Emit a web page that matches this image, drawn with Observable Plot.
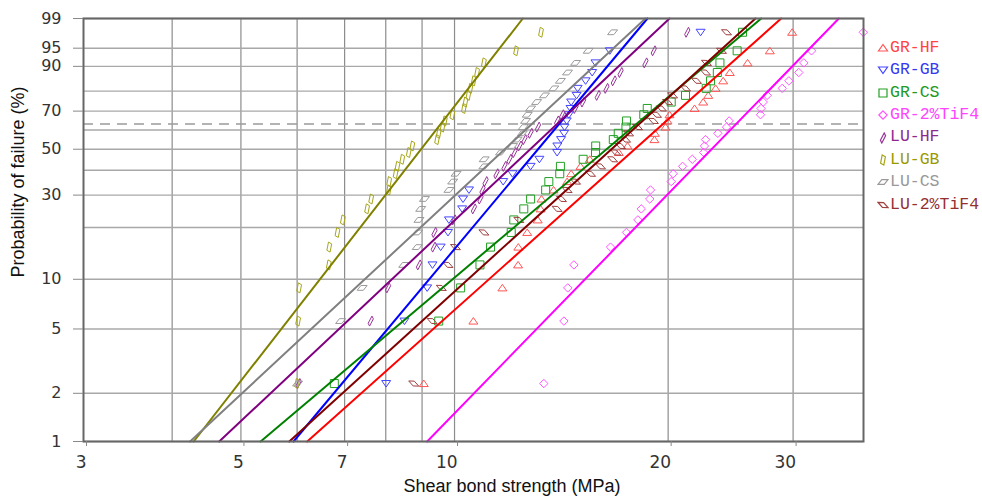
<!DOCTYPE html>
<html><head><meta charset="utf-8">
<script src="https://cdn.jsdelivr.net/npm/d3@7"></script>
<script src="https://cdn.jsdelivr.net/npm/@observablehq/plot@0.6"></script>
<style>
body{margin:0;background:#fff;}
#wrap{position:relative;width:982px;height:496px;overflow:hidden;font-family:"Liberation Sans",Arial,sans-serif;}
#ytitle{position:absolute;left:18px;top:182px;transform:translate(-50%,-50%) rotate(-90deg);white-space:nowrap;font-size:18px;color:#111;}
#xtitle{position:absolute;left:512px;top:486px;transform:translate(-50%,-50%);white-space:nowrap;font-size:18px;color:#111;}
#legend{position:absolute;left:877px;top:36.8px;font-family:"Liberation Mono",monospace;font-size:16.5px;}
#legend .row{height:22.4px;line-height:22.4px;display:flex;align-items:center;white-space:nowrap;}
#legend svg{width:12px;height:12px;margin-right:1px;}
</style></head><body><div id="wrap"><div id="ytitle">Probability of failure (%)</div><div id="xtitle">Shear bond strength (MPa)</div><div id="legend"></div></div>
<script>
// ---- data ----
const seriesNames = ["GR-HF","GR-GB","GR-CS","GR-2%TiF4","LU-HF","LU-GB","LU-CS","LU-2%TiF4"];
// plotting positions (median ranks, %) shared by every series of 30 specimens
const rankProb = [2.30,5.59,8.88,12.17,15.46,18.75,22.04,25.33,28.62,31.91,35.20,38.49,41.78,45.07,48.36,51.64,54.93,58.22,61.51,64.80,68.09,71.38,74.67,77.96,81.25,84.54,87.83,91.12,94.41,97.70];
const grHF = [9.05,10.63,11.68,12.29,12.30,12.66,13.10,13.22,13.26,13.79,14.41,14.60,15.05,15.51,17.04,17.53,19.13,19.16,19.83,19.96,20.09,21.79,22.41,22.78,23.33,23.91,24.43,25.88,27.82,29.91];
const grGB = [8.01,8.50,9.15,9.31,9.56,9.79,9.82,10.25,10.28,10.48,11.71,12.07,12.80,13.17,13.95,13.96,14.13,14.27,14.29,14.39,14.49,14.57,14.60,14.86,14.91,15.30,15.63,15.80,16.55,22.22];
const grCS = [6.77,9.50,10.20,10.86,11.24,12.02,12.12,12.52,12.80,13.44,13.58,14.07,14.10,15.18,15.80,15.81,16.74,17.01,17.44,17.47,18.48,18.69,20.20,21.16,22.63,22.95,23.46,23.66,25.02,25.46];
const grTiF4 = [13.36,14.26,14.44,14.73,16.59,17.47,18.13,18.33,18.84,18.89,20.20,20.33,20.96,21.63,22.45,22.50,22.58,23.50,24.17,24.38,26.99,27.04,27.23,27.58,28.96,29.59,30.56,31.06,31.85,37.67];
const luHF = [6.03,7.62,8.06,8.91,9.35,9.37,9.98,10.65,10.88,10.95,11.06,11.46,11.76,11.96,12.15,12.36,12.55,12.80,13.11,13.95,14.18,14.81,15.18,15.92,16.37,16.77,17.14,18.58,19.09,21.28];
const luGB = [6.00,6.02,6.04,6.65,6.66,6.84,6.96,7.53,7.63,8.08,8.09,8.26,8.31,8.44,8.62,8.72,9.45,9.50,9.62,9.69,9.93,10.31,10.36,10.46,10.53,10.64,10.76,11.00,12.21,13.24];
const luCS = [6.01,6.91,7.41,8.48,8.86,8.87,8.91,8.96,9.07,9.82,9.94,10.05,11.00,11.01,11.61,12.07,12.25,12.46,12.50,12.59,12.66,12.80,13.05,13.39,13.80,14.10,14.43,14.81,15.43,16.70];
const luTiF4 = [8.76,9.30,9.58,9.79,10.03,11.00,12.32,13.95,14.15,14.41,14.81,15.55,16.06,16.70,16.87,17.14,17.42,17.59,18.11,19.07,19.26,19.57,19.96,20.29,21.16,21.93,22.58,22.65,23.78,24.17];
// fitted Weibull lines: strength at 1 % and at 99 % failure probability
const fitAt1 = [6.20,5.93,5.33,9.15,4.66,4.29,4.24,5.85];
const fitAt99 = [28.86,18.70,27.05,34.80,20.09,12.48,18.58,26.55];
const lineColors = ["#ff0000","#0000ff","#008000","#ff00ff","#800080","#808000","#808080","#800000"];
const pointColors = ["#ff5555","#4444ff","#22a022","#ff55ff","#993399","#a6a61a","#9a9a9a","#a04040"];
const legendColors = ["#ff4444","#3838f0","#229922","#ff44ff","#8e2a8e","#9a9a00","#999999","#943030"];
const yTickLabels = [1,2,5,10,30,50,70,90,95,99];
const yGridExtra = [20,40,60,80];
const xTickLabels = [3,5,7,10,20,30];
const xGridExtra = [4,6,8,9];
const charLifePct = 63.2;
const xDomain = [3, 37.7];

// ---- custom marker shapes ----
const poly = pts => ({draw(ctx){ctx.moveTo(pts[0][0],pts[0][1]);for(let k=1;k<pts.length;k++)ctx.lineTo(pts[k][0],pts[k][1]);ctx.closePath();}});
const symbols = [
  poly([[0,-3.5],[4.5,3],[-4.5,3]]),            // triangle up
  poly([[-4.5,-3],[4.5,-3],[0,3.5]]),           // triangle down
  poly([[-4,-4],[4,-4],[4,4],[-4,4]]),          // square
  poly([[0,-4.2],[4.2,0],[0,4.2],[-4.2,0]]),    // diamond
  poly([[-2.6,2.2],[1.2,-5],[2.6,-2.2],[-1.2,5]]), // slanted slim (LU-HF)
  poly([[-2.4,3.2],[-0.8,-5],[2.4,-3.2],[0.8,5]]), // slanted tall (LU-GB)
  poly([[-5,2.4],[-1.2,-2.4],[5,-2.4],[1.2,2.4]]), // flat parallelogram (LU-CS)
  poly([[-5,-2.6],[0.6,-2.4],[5,2.6],[-0.6,2.4]])  // tilted down (LU-2%TiF4)
];

const wb = p => Math.log(-Math.log(1 - p / 100));
const values = [grHF, grGB, grCS, grTiF4, luHF, luGB, luCS, luTiF4];

const yTicksW = yTickLabels.map(wb);
const yFmt = new Map(yTickLabels.map(p => [wb(p), String(p)]));

const marks = [
  Plot.ruleX(xGridExtra.concat(xTickLabels.slice(1)), {stroke:"#8c8c8c", strokeWidth:1.2}),
  Plot.ruleY(yTickLabels.concat(yGridExtra).map(wb), {stroke:"#a8a8a8", strokeWidth:1.4}),
  Plot.ruleY([wb(charLifePct)], {x1: xDomain[0], x2: 37.2, stroke:"#9a9a9a", strokeWidth:1.6, strokeDasharray:"10,7"})
];
values.forEach((vals, s) => {
  marks.push(Plot.dot(vals.map((v, i) => ({x: v, y: wb(rankProb[i])})),
    {x:"x", y:"y", symbol: symbols[s], r:4.5, stroke: pointColors[s], fill:"none", strokeWidth:1}));
});
values.forEach((vals, s) => {
  marks.push(Plot.line([{x: fitAt1[s], y: wb(1)}, {x: fitAt99[s], y: wb(99)}],
    {x:"x", y:"y", stroke: lineColors[s], strokeWidth:2}));
});
marks.push(
  Plot.frame({stroke:"#666", strokeWidth:2}),
  Plot.axisY(yTicksW, {label: null, tickSize:10, tickPadding:12, tickFormat: w => yFmt.get(w), fontSize:16, stroke:"#888", fill:"#333"}),
  Plot.axisX(xTickLabels, {label: null, tickSize:5, tickPadding:9, tickFormat: d => String(d), fontSize:17, textAnchor:"end", dx:3, stroke:"#888", fill:"#333"})
);

const chart = Plot.plot({
  width: 982, height: 496,
  marginLeft: 83, marginRight: 119, marginTop: 18, marginBottom: 55,
  style: {fontFamily: "'DejaVu Sans', sans-serif", background: "transparent"},
  x: {type: "log", domain: xDomain, label: null},
  y: {type: "linear", domain: [wb(1), wb(99)], label: null},
  marks
});
chart.style.position = "absolute";
chart.style.left = "0"; chart.style.top = "0";
document.getElementById("wrap").prepend(chart);

// legend
const legend = d3.select("#legend");
seriesNames.forEach((name, s) => {
  const row = legend.append("div").attr("class", "row").style("color", legendColors[s]);
  const svg = row.append("svg").attr("viewBox", "-6 -6 12 12");
  const p = d3.path(); symbols[s].draw(p);
  svg.append("path").attr("d", p.toString()).attr("fill", "none").attr("stroke", pointColors[s]).attr("stroke-width", 1.2);
  row.append("span").text(name);
});
</script></body></html>
